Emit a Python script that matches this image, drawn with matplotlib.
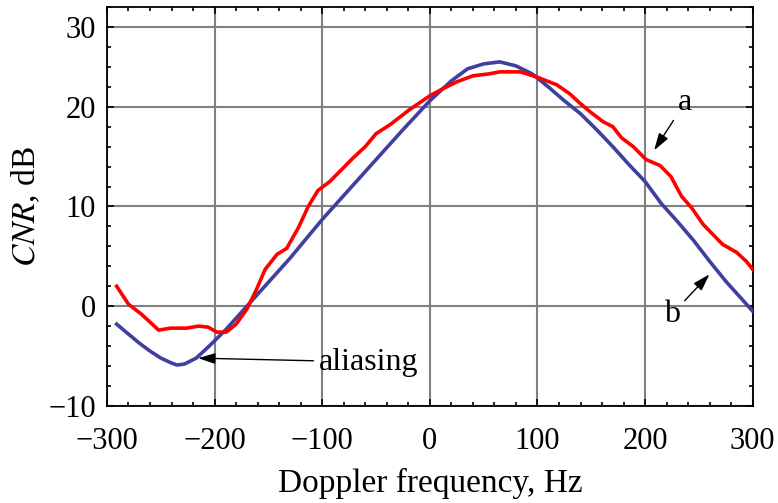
import matplotlib.pyplot as plt
from matplotlib.ticker import MultipleLocator

plt.rcParams['font.family'] = ['Liberation Serif', 'DejaVu Serif']
plt.rcParams['mathtext.fontset'] = 'stix'

# curve b (blue)
freq_b = [-291, -280, -270, -260, -250, -240, -235, -228, -217, -205, -190, -170,
          -150, -130, -100, -75, -50, -25, 0, 20, 35, 50, 65, 80, 95, 110, 125,
          140, 155, 170, 185, 200, 215, 230, 245, 260, 275, 290, 300]
cnr_b = [-1.8, -2.8, -3.7, -4.5, -5.2, -5.7, -5.9, -5.8, -5.2, -4.0, -2.4, 0.0,
         2.4, 4.8, 8.7, 11.7, 14.7, 17.7, 20.6, 22.6, 23.8, 24.3, 24.5, 24.1, 23.3,
         22.0, 20.6, 19.3, 17.7, 16.0, 14.2, 12.5, 10.3, 8.5, 6.6, 4.5, 2.5, 0.7, -0.5]

# curve a (red)
freq_a = [-291, -280, -268, -252, -241, -226, -215, -206, -198, -189, -180, -170,
          -161, -153, -142, -133, -122, -113, -104, -93, -82, -71, -60, -50, -37,
          -19, 0, 12, 25, 40, 55, 65, 84, 99, 118, 130, 139, 150, 161, 170, 178,
          189, 201, 214, 224, 234, 243, 254, 263, 272, 285, 294, 300]
cnr_a = [2.0, 0.2, -0.8, -2.4, -2.2, -2.2, -2.0, -2.1, -2.6, -2.6, -1.8, -0.3,
         1.7, 3.7, 5.2, 5.8, 7.9, 10.0, 11.6, 12.5, 13.7, 14.9, 16.0, 17.3, 18.2,
         19.7, 21.1, 21.8, 22.5, 23.1, 23.3, 23.5, 23.5, 23.0, 22.2, 21.3, 20.4,
         19.4, 18.5, 18.0, 16.9, 16.0, 14.7, 14.1, 13.0, 11.0, 9.9, 8.2, 7.2, 6.2,
         5.4, 4.5, 3.7]

xticks = [-300, -200, -100, 0, 100, 200, 300]
xtick_labels = ['\u2212300', '\u2212200', '\u2212100', '0', '100', '200', '300']
yticks = [-10, 0, 10, 20, 28]
ytick_labels = ['\u221210', '0', '10', '20', '30']

fig = plt.figure(figsize=(7.78, 5.03), dpi=100)
ax = fig.add_axes([0.1375, 0.193, 0.83, 0.793])

ax.plot(freq_b, cnr_b, color='#3f3f9f', lw=2.6, zorder=3)
ax.plot(freq_a, cnr_a, color='#ff0000', lw=2.6, zorder=4)

ax.set_xlim(-300, 300)
ax.set_ylim(-10, 30)
ax.set_xticks(xticks)
ax.set_xticklabels(xtick_labels)
ax.set_yticks(yticks)
ax.set_yticklabels(ytick_labels)
ax.xaxis.set_minor_locator(MultipleLocator(20))
ax.yaxis.set_minor_locator(MultipleLocator(2))
ax.tick_params(which='both', direction='in', top=True, right=True, width=1.2,
               labelsize=22)
ax.tick_params(axis='y', pad=8)
ax.tick_params(axis='x', pad=15)
ax.tick_params(which='major', length=5)
ax.tick_params(which='minor', length=3)
ax.grid(True, which='major', color='#808080', lw=1.5)
ax.set_axisbelow(True)
for s in ax.spines.values():
    s.set_linewidth(1.3)

ax.set_xlabel('Doppler frequency, Hz', fontsize=24, labelpad=9)
ax.set_ylabel('$\\it{CNR}$, dB', fontsize=24, labelpad=4)

arrow = dict(arrowstyle='-|>,head_length=0.8,head_width=0.25', color='black',
             lw=1, mutation_scale=13)
ax.annotate('a', xy=(207, 15.4), xytext=(237, 20.4), fontsize=23,
            ha='center', va='center', arrowprops=arrow)
ax.annotate('b', xy=(261.6, 3.4), xytext=(225, -0.8), fontsize=23,
            ha='center', va='center', arrowprops=arrow)
ax.annotate('aliasing', xy=(-218, -5.2), xytext=(-103, -5.6), fontsize=23,
            ha='left', va='center', arrowprops=arrow)

fig.savefig('out.png', dpi=100)
